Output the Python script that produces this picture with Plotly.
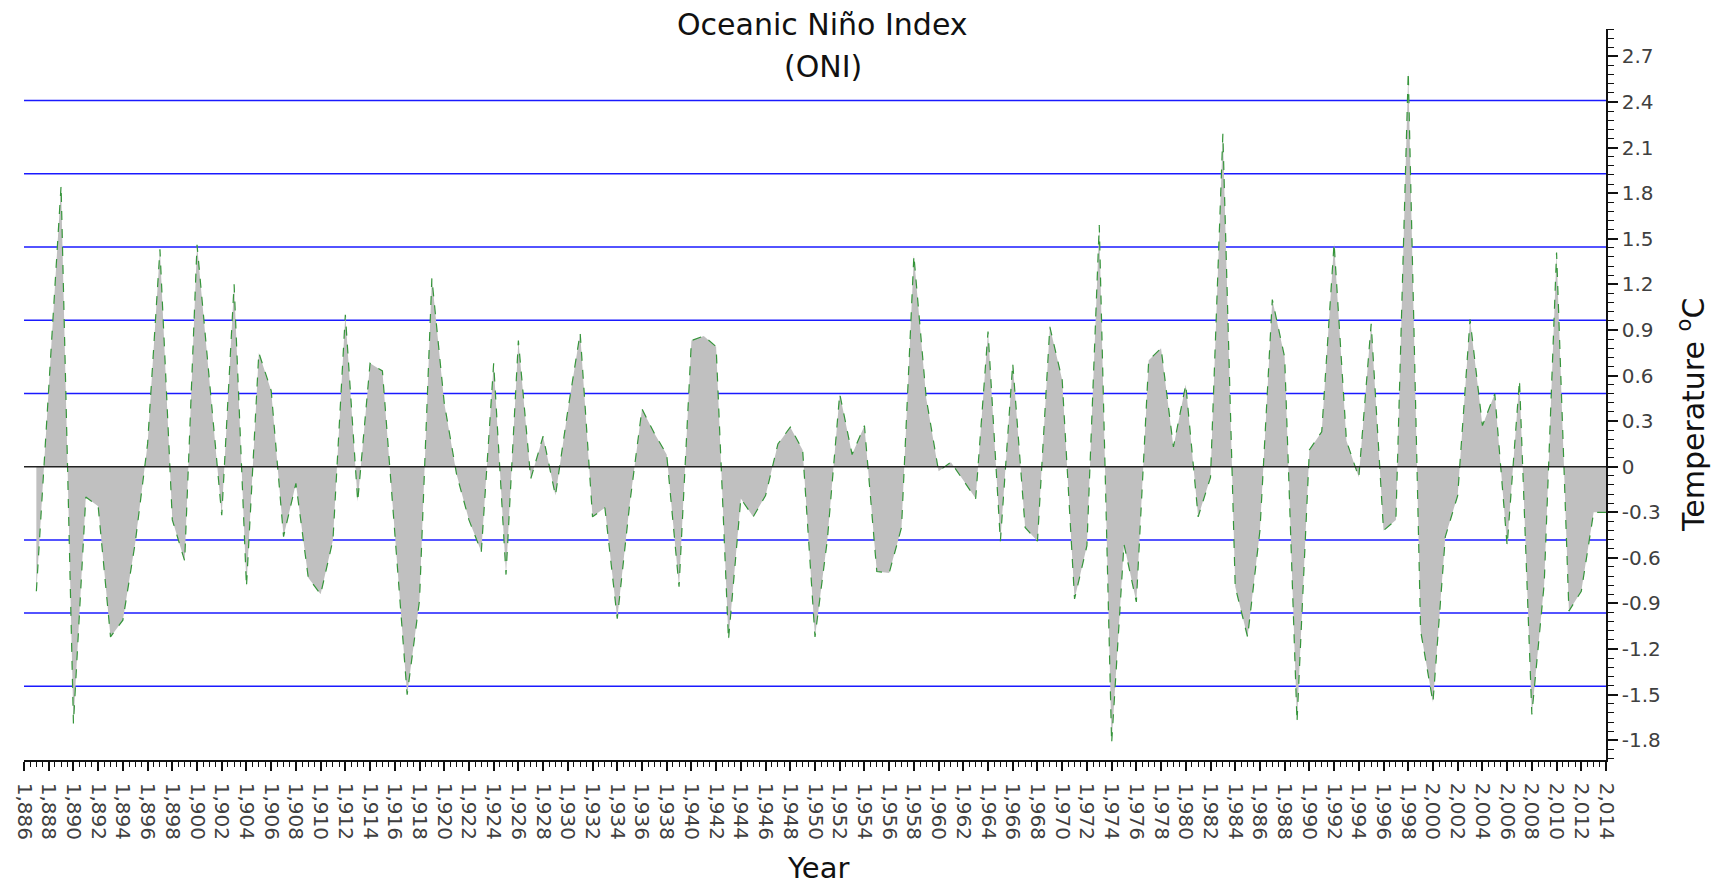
import plotly.graph_objects as go

years = list(range(1887, 2015))
oni = [
    -0.82, 0.50, 1.85, -1.69, -0.20, -0.26, -1.12, -1.01, -0.50, 0.15,   # 1887-1896
    1.43, -0.35, -0.62, 1.46, 0.55, -0.32, 1.20, -0.79, 0.75, 0.50,      # 1897-1906
    -0.46, -0.11, -0.73, -0.84, -0.48, 1.00, -0.23, 0.68, 0.63, -0.43,   # 1907-1916
    -1.50, -0.88, 1.24, 0.42, -0.05, -0.35, -0.56, 0.68, -0.71, 0.83,    # 1917-1926
    -0.08, 0.20, -0.19, 0.37, 0.88, -0.33, -0.27, -1.00, -0.25, 0.38,    # 1927-1936
    0.22, 0.08, -0.79, 0.83, 0.86, 0.79, -1.14, -0.21, -0.33, -0.19,     # 1937-1946
    0.15, 0.26, 0.11, -1.12, -0.48, 0.48, 0.08, 0.27, -0.69, -0.70,      # 1947-1956
    -0.40, 1.39, 0.45, -0.03, 0.03, -0.09, -0.21, 0.89, -0.49, 0.68,     # 1957-1966
    -0.40, -0.49, 0.92, 0.57, -0.87, -0.52, 1.59, -1.82, -0.51, -0.89,   # 1967-1976
    0.70, 0.78, 0.13, 0.54, -0.33, -0.07, 2.19, -0.79, -1.12, -0.42,     # 1977-1986
    1.10, 0.72, -1.68, 0.11, 0.23, 1.47, 0.17, -0.07, 0.94, -0.42,       # 1987-1996
    -0.35, 2.60, -1.08, -1.55, -0.46, -0.19, 0.97, 0.27, 0.48, -0.52,    # 1997-2006
    0.57, -1.63, -0.77, 1.41, -0.95, -0.82, -0.30, -0.30,                # 2007-2014
]

y_ticks = [-1.8, -1.5, -1.2, -0.9, -0.6, -0.3, 0, 0.3, 0.6, 0.9, 1.2, 1.5, 1.8, 2.1, 2.4, 2.7]
y_tick_text = ["-1.8", "-1.5", "-1.2", "-0.9", "-0.6", "-0.3", "0", "0.3", "0.6",
               "0.9", "1.2", "1.5", "1.8", "2.1", "2.4", "2.7"]
blue_levels = [-1.445, -0.963, -0.482, 0.482, 0.963, 1.445, 1.927, 2.409]

fig = go.Figure()
fig.add_trace(go.Scatter(
    x=years, y=oni, mode="lines", fill="tozeroy",
    fillcolor="#c0c0c0",
    line=dict(color="#35953a", width=1.2, dash="dash"),
    showlegend=False, hoverinfo="x+y",
))

shapes = []
for lv in blue_levels:
    shapes.append(dict(type="line", xref="paper", x0=0, x1=1, yref="y", y0=lv, y1=lv,
                       line=dict(color="#1a1aff", width=1.5), layer="below"))
shapes.append(dict(type="line", xref="paper", x0=0, x1=1, yref="y", y0=0, y1=0,
                   line=dict(color="#222222", width=1.5), layer="above"))

x_tick_font = dict(family="DejaVu Sans", size=20, color="#404040")
y_tick_font = dict(family="DejaVu Sans", size=20, color="#404040")

fig.update_layout(
    width=1717, height=884,
    margin=dict(l=20, r=111, t=29, b=124),
    paper_bgcolor="white", plot_bgcolor="white",
    shapes=shapes,
    xaxis=dict(
        range=[1886, 2014], tick0=1886, dtick=2, tickformat=",d",
        tickangle=90, tickfont=x_tick_font,
        showgrid=False, zeroline=False,
        showline=True, linecolor="#111111", linewidth=1.5,
        ticks="outside", ticklen=9, tickwidth=1.5, tickcolor="#111111",
        ticklabelstandoff=8,
        minor=dict(dtick=0.5, tick0=1886, ticks="outside", ticklen=5,
                   tickwidth=1, tickcolor="#111111", showgrid=False),
    ),
    yaxis=dict(
        range=[-1.93, 2.88], side="right",
        tickvals=y_ticks, ticktext=y_tick_text, tickfont=y_tick_font,
        showgrid=False, zeroline=False,
        showline=True, linecolor="#111111", linewidth=1.5,
        ticks="outside", ticklen=10, tickwidth=1.5, tickcolor="#111111",
        minor=dict(dtick=0.06, tick0=0, ticks="outside", ticklen=6,
                   tickwidth=1, tickcolor="#111111", showgrid=False),
    ),
    annotations=[
        dict(text="Oceanic Niño Index", xref="paper", yref="paper", x=0.505, y=1.0068,
             xanchor="center", yanchor="middle", showarrow=False,
             font=dict(family="DejaVu Sans", size=30, color="#111111")),
        dict(text="(ONI)", xref="paper", yref="paper", x=0.505, y=0.949,
             xanchor="center", yanchor="middle", showarrow=False,
             font=dict(family="DejaVu Sans", size=30, color="#111111")),
        dict(text="Year", xref="paper", yref="paper", x=0.502, y=-0.148,
             xanchor="center", yanchor="middle", showarrow=False,
             font=dict(family="DejaVu Sans", size=29, color="#111111")),
        dict(text="Temperature <sup>o</sup>C", xref="paper", yref="paper", x=1.0544, y=0.472,
             xanchor="center", yanchor="middle", showarrow=False, textangle=-90,
             font=dict(family="DejaVu Sans", size=30, color="#111111")),
    ],
)

fig.write_html(
    "out.html",
    config={"displayModeBar": False},
    post_script="document.body.style.margin='0';document.body.style.overflow='hidden';",
)
